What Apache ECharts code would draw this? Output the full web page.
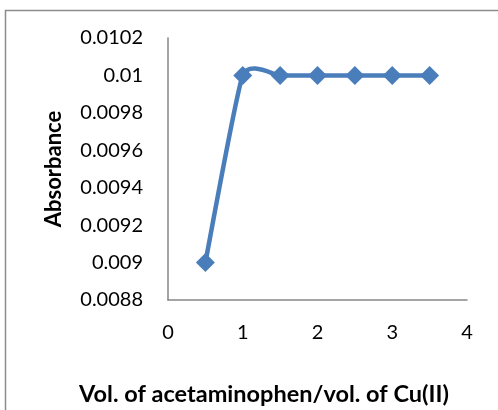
<!DOCTYPE html>
<html>
<head>
<meta charset="utf-8">
<script src="https://cdn.jsdelivr.net/npm/echarts@6/dist/echarts.min.js"></script>
<style>
html, body { margin: 0; padding: 0; background: #fff; }
#chart { width: 498px; height: 410px; }
</style>
</head>
<body>
<div id="chart"></div>
<script>
// volume ratio vs absorbance
var ratios = [0.5, 1, 1.5, 2, 2.5, 3, 3.5];
var absorbance = [0.009, 0.01, 0.01, 0.01, 0.01, 0.01, 0.01];
var xTicks = [0, 1, 2, 3, 4];
var yTicks = [0.0088, 0.009, 0.0092, 0.0094, 0.0096, 0.0098, 0.01, 0.0102];
var xTitle = "Vol. of acetaminophen/vol. of Cu(II)";
var yTitle = "Absorbance";

var points = [];
for (var i = 0; i < ratios.length; i++) {
    points.push([ratios[i], absorbance[i]]);
}

var lineColor = "#4a7ebb";
var axisColor = "#868686";
var font = "Lato";
var tension = 1 / 12;

// smoothed path like the spreadsheet one (control points not clamped, so it overshoots a little)
function smoothLine(params, api) {
    if (params.dataIndex != 0) return;
    var pts = [];
    for (var i = 0; i < points.length; i++) {
        pts.push(api.coord(points[i]));
    }
    var n = pts.length;
    var cpOut = [], cpIn = [];
    for (var i = 0; i < n; i++) {
        var prev = pts[Math.max(i - 1, 0)], next = pts[Math.min(i + 1, n - 1)];
        var vx = (next[0] - prev[0]) * tension, vy = (next[1] - prev[1]) * tension;
        cpOut.push([pts[i][0] + vx, pts[i][1] + vy]);
        cpIn.push([pts[i][0] - vx, pts[i][1] - vy]);
    }
    var d = "M" + pts[0][0] + " " + pts[0][1];
    for (var i = 1; i < n; i++) {
        d += " C" + cpOut[i - 1][0] + " " + cpOut[i - 1][1] + " " +
            cpIn[i][0] + " " + cpIn[i][1] + " " + pts[i][0] + " " + pts[i][1];
    }
    return {
        type: "path",
        shape: { pathData: d },
        style: { fill: null, stroke: lineColor, lineWidth: 4.5, lineJoin: "round", lineCap: "round" }
    };
}

var myChart = echarts.init(document.getElementById("chart"));
myChart.setOption({
    animation: false,
    backgroundColor: "#fff",
    graphic: [{
        type: "rect",
        shape: { x: 5.5, y: 10.5, width: 600, height: 600 },
        style: { fill: "none", stroke: "#8c8c8c", lineWidth: 1.5 },
        silent: true
    }, {
        type: "text",
        x: 264,
        y: 394,
        style: {
            text: xTitle,
            fontFamily: font, fontWeight: "bold", fontSize: 23.5, fill: "#000",
            align: "center", verticalAlign: "middle"
        },
        silent: true
    }],
    grid: { left: 168, right: 31, top: 38, bottom: 110, containLabel: false, outerBoundsMode: "none" },
    xAxis: {
        type: "value",
        min: xTicks[0],
        max: xTicks[xTicks.length - 1],
        interval: 1,
        axisLine: { lineStyle: { color: axisColor, width: 1.5 } },
        axisTick: { show: false },
        splitLine: { show: false },
        axisLabel: { fontFamily: font, fontSize: 20, color: "#000", margin: 23 }
    },
    yAxis: {
        type: "value",
        min: yTicks[0],
        max: yTicks[yTicks.length - 1],
        interval: 0.0002,
        name: yTitle,
        nameLocation: "middle",
        nameGap: 103,
        nameTextStyle: { fontFamily: font, fontWeight: "bold", fontSize: 22, color: "#000" },
        axisLine: { show: true, lineStyle: { color: axisColor, width: 1.5 } },
        axisTick: { show: false },
        splitLine: { show: false },
        axisLabel: {
            fontFamily: font, fontSize: 20, color: "#000", margin: 25,
            formatter: function (v) { return String(parseFloat(v.toFixed(4))); }
        }
    },
    series: [{
        type: "custom",
        data: points,
        renderItem: smoothLine,
        z: 2,
        silent: true
    }, {
        type: "scatter",
        data: points,
        symbol: "diamond",
        symbolSize: 19,
        itemStyle: { color: lineColor, opacity: 1 },
        z: 3
    }]
});
</script>
</body>
</html>
